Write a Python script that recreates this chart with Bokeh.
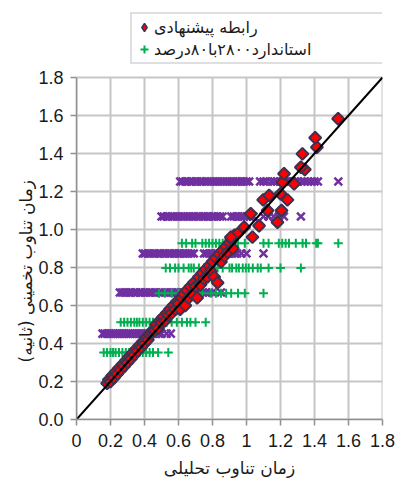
from bokeh.plotting import figure
from bokeh.models import Legend, LegendItem, FixedTicker, NumeralTickFormatter, Title
from bokeh.embed import file_html
from bokeh.resources import INLINE
import math

# ---------------- data ----------------
x_ticks = [0, 0.2, 0.4, 0.6, 0.8, 1.0, 1.2, 1.4, 1.6, 1.8]
x_tick_labels = ["0", "0.2", "0.4", "0.6", "0.8", "1", "1.2", "1.4", "1.6", "1.8"]
y_ticks = [0, 0.2, 0.4, 0.6, 0.8, 1.0, 1.2, 1.4, 1.6, 1.8]
axis_min, axis_max = 0.0, 1.8

# purple X rows (code periods, no legend entry)
purple_y_levels = [1.253, 1.068, 0.874, 0.668, 0.452]
purple_x_125 = [0.61, 0.623, 0.64, 0.652, 0.67, 0.684, 0.70, 0.712, 0.73, 0.744, 0.76, 0.773,
                0.79, 0.806, 0.82, 0.833, 0.85, 0.864, 0.88, 0.897, 0.91, 0.923, 0.94, 0.956,
                0.97, 0.984, 1.00, 1.016, 1.08, 1.10, 1.12, 1.145, 1.165, 1.18, 1.196, 1.21,
                1.226, 1.24, 1.256, 1.27, 1.285, 1.30, 1.322, 1.34, 1.36, 1.38, 1.40, 1.42, 1.54]
purple_x_107 = [0.50, 0.513, 0.53, 0.542, 0.56, 0.574, 0.59, 0.603, 0.62, 0.633, 0.65, 0.664,
                0.68, 0.692, 0.71, 0.723, 0.74, 0.755, 0.77, 0.782, 0.80, 0.813, 0.83, 0.845,
                0.86, 0.91, 0.925, 0.94, 0.953, 0.97, 0.985, 1.00, 1.02, 1.04, 1.10, 1.13,
                1.16, 1.19, 1.22, 1.32]
purple_x_087 = [0.39, 0.403, 0.42, 0.433, 0.45, 0.462, 0.48, 0.494, 0.51, 0.523, 0.54, 0.555,
                0.57, 0.583, 0.60, 0.614, 0.63, 0.643, 0.66, 0.675, 0.69, 0.75, 0.764, 0.78,
                0.793, 0.81, 0.824, 0.84, 0.855, 0.87, 0.884, 0.90, 0.915, 0.93, 0.945, 0.97,
                1.00, 1.10]
purple_x_067 = [0.255, 0.268, 0.28, 0.294, 0.31, 0.322, 0.34, 0.353, 0.37, 0.384, 0.40, 0.413,
                0.43, 0.444, 0.46, 0.472, 0.49, 0.503, 0.52, 0.534, 0.55, 0.563, 0.58, 0.595,
                0.61, 0.624, 0.64, 0.655, 0.67, 0.684, 0.70, 0.715, 0.73, 0.745, 0.76, 0.78,
                0.80, 0.85]
purple_x_045 = [0.153, 0.165, 0.18, 0.192, 0.205, 0.218, 0.23, 0.243, 0.255, 0.268, 0.28,
                0.293, 0.305, 0.318, 0.33, 0.343, 0.355, 0.368, 0.38, 0.393, 0.405, 0.418,
                0.43, 0.443, 0.455, 0.47, 0.485, 0.50, 0.53, 0.555]

# green plus rows (standard 2800, 80%)
green_y_levels = [0.928, 0.798, 0.665, 0.512, 0.353]
green_x_093 = [0.62, 0.645, 0.68, 0.70, 0.74, 0.76, 0.78, 0.80, 0.82, 0.84, 0.86, 0.88, 0.90,
               0.93, 0.95, 0.99, 1.10, 1.13, 1.19, 1.21, 1.23, 1.25, 1.29, 1.33, 1.35, 1.41,
               1.42, 1.54]
green_x_080 = [0.525, 0.55, 0.58, 0.60, 0.63, 0.66, 0.675, 0.69, 0.72, 0.75, 0.78, 0.80, 0.83,
               0.86, 0.90, 0.915, 0.94, 0.955, 0.978, 0.996, 1.013, 1.037, 1.066, 1.084, 1.13,
               1.20, 1.32]
green_x_067 = [0.485, 0.52, 0.56, 0.60, 0.625, 0.66, 0.70, 0.74, 0.79, 0.82, 0.85, 0.88, 0.91,
               0.95, 0.99, 1.10]
green_x_051 = [0.26, 0.28, 0.30, 0.32, 0.34, 0.355, 0.37, 0.39, 0.41, 0.43, 0.45, 0.47, 0.49,
               0.51, 0.53, 0.56, 0.59, 0.62, 0.65, 0.67, 0.70, 0.76]
green_x_035 = [0.16, 0.18, 0.20, 0.215, 0.23, 0.25, 0.27, 0.29, 0.31, 0.33, 0.35, 0.37, 0.39,
               0.41, 0.43, 0.45, 0.48, 0.54]

# red diamonds (proposed relation)
red_x = [0.18, 0.19, 0.20, 0.21, 0.22, 0.23, 0.24, 0.25, 0.26, 0.27, 0.28, 0.29, 0.30, 0.31,
         0.32, 0.33, 0.34, 0.35, 0.36, 0.37, 0.38, 0.39, 0.40, 0.41, 0.42, 0.43, 0.44, 0.45,
         0.46, 0.47, 0.48, 0.49, 0.50, 0.51, 0.52, 0.53, 0.54, 0.55, 0.56, 0.57, 0.58, 0.59,
         0.60, 0.62, 0.61, 0.64, 0.63, 0.65, 0.66, 0.67, 0.68, 0.69, 0.70, 0.71, 0.72, 0.73,
         0.74, 0.75, 0.76, 0.77, 0.78, 0.79, 0.80, 0.81, 0.82, 0.83, 0.84, 0.85, 0.86, 0.87,
         0.88, 0.89, 0.90, 0.91, 0.92, 0.93, 0.947, 0.908, 0.986, 1.035, 1.025, 1.074, 1.182,
         1.206, 1.124, 1.098, 1.241, 1.20, 1.133, 1.28, 1.212, 1.221, 1.343, 1.32, 1.329,
         1.414, 1.404, 1.539]
red_y = [0.19, 0.21, 0.20, 0.23, 0.22, 0.25, 0.24, 0.27, 0.26, 0.29, 0.28, 0.31, 0.30, 0.33,
         0.32, 0.35, 0.34, 0.37, 0.36, 0.39, 0.38, 0.41, 0.40, 0.43, 0.42, 0.45, 0.46, 0.47,
         0.47, 0.50, 0.48, 0.52, 0.51, 0.54, 0.52, 0.56, 0.55, 0.58, 0.56, 0.60, 0.58, 0.62,
         0.61, 0.64, 0.58, 0.60, 0.66, 0.68, 0.64, 0.70, 0.66, 0.72, 0.70, 0.64, 0.75, 0.71,
         0.77, 0.74, 0.79, 0.75, 0.81, 0.78, 0.83, 0.75, 0.85, 0.72, 0.87, 0.83, 0.89, 0.86,
         0.91, 0.88, 0.93, 0.95, 0.90, 0.97, 0.977, 0.96, 1.012, 0.96, 1.083, 1.02, 1.038,
         1.10, 1.10, 1.156, 1.156, 1.188, 1.179, 1.24, 1.249, 1.293, 1.316, 1.328, 1.398,
         1.433, 1.483, 1.583]

line_x = [0, 1.8]
line_y = [0, 1.8]

label_red = "رابطه پیشنهادی"
label_green = "استاندارد۲۸۰۰با۸۰درصد"
x_title = "زمان تناوب تحلیلی"
y_title = "زمان تناوب تخمینی (ثانیه)"

# ---------------- build ----------------
purple_rows = [purple_x_125, purple_x_107, purple_x_087, purple_x_067, purple_x_045]
green_rows = [green_x_093, green_x_080, green_x_067, green_x_051, green_x_035]
pxs, pys = [], []
for lvl, row in zip(purple_y_levels, purple_rows):
    pxs += row
    pys += [lvl] * len(row)
gxs, gys = [], []
for lvl, row in zip(green_y_levels, green_rows):
    gxs += row
    gys += [lvl] * len(row)

# frame: bottom at 419px, 1.8 at 77px; extra room above 1.8 holds the legend
FRAME_TOP_PX, FRAME_BOTTOM_PX, TOP_TICK_PX = 5, 419, 77
y_end = axis_max * (FRAME_BOTTOM_PX - FRAME_TOP_PX) / (FRAME_BOTTOM_PX - TOP_TICK_PX)

p = figure(width=397, height=483, output_backend="svg", toolbar_location=None,
           x_range=(axis_min, axis_max), y_range=(axis_min, y_end),
           min_border_left=76, min_border_right=15, min_border_top=FRAME_TOP_PX,
           min_border_bottom=483 - FRAME_BOTTOM_PX)
p.outline_line_color = None
p.background_fill_color = "white"
p.xgrid.visible = False
p.ygrid.visible = False

# grid lines bounded to the 0..1.8 square
p.segment(x0=x_ticks, y0=[axis_min] * len(x_ticks), x1=x_ticks, y1=[axis_max] * len(x_ticks),
          line_color="#c6c6c6", line_width=2)
p.segment(x0=[axis_min] * len(y_ticks), y0=y_ticks, x1=[axis_max] * len(y_ticks), y1=y_ticks,
          line_color="#c6c6c6", line_width=2)

TICK_FONT = "Liberation Sans"
for ax in (p.xaxis[0], p.yaxis[0]):
    ax.axis_line_color = "#8f8f8f"
    ax.axis_line_width = 1.5
    ax.major_tick_line_color = "#8f8f8f"
    ax.major_tick_line_width = 1.5
    ax.major_tick_out = 6
    ax.major_tick_in = 0
    ax.minor_tick_line_color = None
    ax.major_label_text_font = TICK_FONT
    ax.major_label_text_font_size = "18px"
    ax.major_label_text_color = "#1a1a1a"
    ax.axis_label_text_font = "DejaVu Sans"
    ax.axis_label_text_font_size = "17px"
    ax.axis_label_text_font_style = "normal"
    ax.axis_label_text_color = "#1a1a1a"
    ax.bounds = (axis_min, axis_max)

p.xaxis[0].ticker = FixedTicker(ticks=x_ticks)
p.xaxis[0].major_label_overrides = {t: s for t, s in zip(x_ticks, x_tick_labels)}
p.xaxis[0].major_label_standoff = 8
p.xaxis[0].axis_label = x_title
p.xaxis[0].axis_label_standoff = 8
p.yaxis[0].ticker = FixedTicker(ticks=y_ticks)
p.yaxis[0].formatter = NumeralTickFormatter(format="0.0")
p.yaxis[0].major_label_standoff = 7

# y title placed in the left panel, shifted so it is centred on the 0..1.8 span
ytitle = Title(text=y_title, align="left", offset=57, text_font="DejaVu Sans",
               text_font_size="17px", text_font_style="normal", text_color="#1a1a1a",
               standoff=0)
p.add_layout(ytitle, "left")

# legend key (drawn underneath the red squares, same data)
rr_key = p.scatter(red_x, red_y, marker="diamond", size=6, fill_color="#FF0000",
                   line_color="#3F3151", line_width=1.5)
p.scatter(pxs, pys, marker="x", size=11, line_color="#7030A0", line_width=2.5)
rg = p.scatter(gxs, gys, marker="cross", size=9, line_color="#00B050", line_width=2)
p.scatter(red_x, red_y, marker="square", angle=math.pi / 4, size=8.5,
          fill_color="#FF0000", line_color="#3F3151", line_width=2)
p.line(line_x, line_y, line_color="black", line_width=2)

legend = Legend(items=[LegendItem(label=label_red, renderers=[rr_key]),
                       LegendItem(label=label_green, renderers=[rg])],
                location=(54, 355))
legend.border_line_color = "#BFBFBF"
legend.border_line_width = 2
legend.padding = 2
legend.spacing = 0
legend.margin = 0
legend.glyph_width = 20
legend.glyph_height = 22
legend.label_height = 22
legend.label_standoff = 0
legend.label_width = 239
legend.label_text_font = "DejaVu Sans"
legend.label_text_font_size = "16px"
legend.label_text_color = "#1a1a1a"
legend.label_text_baseline = "middle"
legend.background_fill_alpha = 1
p.add_layout(legend, "center")

open("out.html", "w").write(file_html(p, INLINE))
